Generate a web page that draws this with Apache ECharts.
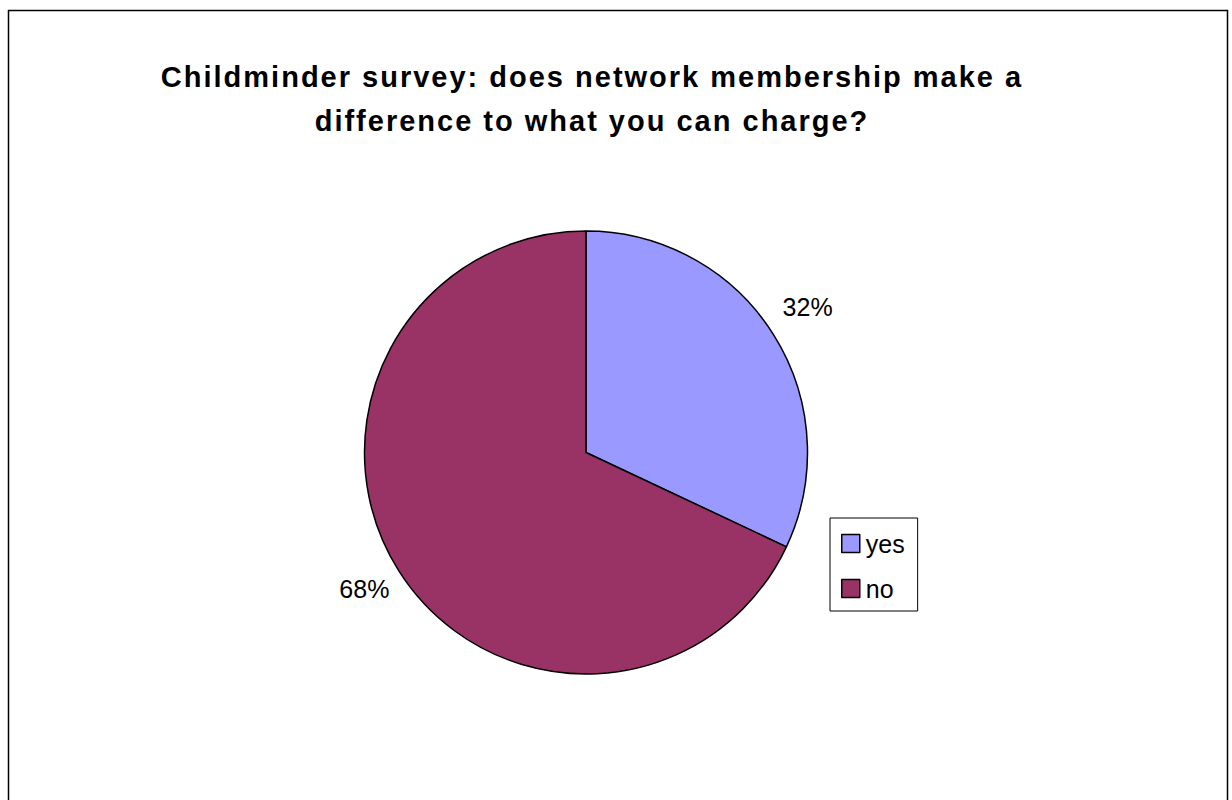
<!DOCTYPE html>
<html>
<head>
<meta charset="utf-8">
<script src="https://cdn.jsdelivr.net/npm/echarts@6/dist/echarts.min.js"></script>
<style>
  html, body { margin: 0; padding: 0; background: #fff; }
  #chart { width: 1232px; height: 800px; }
  /* the old Excel title is rendered with wide letter spacing */
  #chart svg text[style*="bold"] { letter-spacing: 2px; }
</style>
</head>
<body>
<div id="chart"></div>
<script>
const titleLines = ['Childminder survey: does network membership make a', 'difference to what you can charge?'];
const categories = ['yes', 'no'];
const shares = [32, 68];
const colors = ['#9999FF', '#993366'];

const FONT = 'Liberation Sans, Arial, sans-serif';

const chart = echarts.init(document.getElementById('chart'), null, { renderer: 'svg' });

chart.setOption({
  animation: false,
  textStyle: { fontFamily: FONT },
  graphic: [
    {
      type: 'rect',
      shape: { x: 8.5, y: 10.5, width: 1219, height: 800 },
      style: { fill: 'none', stroke: '#000', lineWidth: 1.5 },
      silent: true
    }
  ],
  title: {
    text: titleLines.join('\n'),
    left: 592,
    top: 55,
    textAlign: 'center',
    padding: 0,
    textStyle: {
      fontFamily: FONT,
      fontSize: 29,
      fontWeight: 'bold',
      color: '#000',
      lineHeight: 44
    }
  },
  legend: {
    orient: 'vertical',
    left: 830,
    top: 518,
    padding: [13, 13, 10, 11],
    itemGap: 20,
    itemWidth: 18,
    itemHeight: 18,
    icon: 'rect',
    borderColor: '#000',
    borderWidth: 1,
    backgroundColor: '#fff',
    itemStyle: { borderColor: '#000', borderWidth: 1.5 },
    textStyle: {
      fontFamily: FONT,
      fontSize: 25,
      color: '#000',
      padding: [0, 0, 0, 1]
    },
    data: categories
  },
  series: [
    {
      type: 'pie',
      center: [586, 452.5],
      radius: 221.5,
      startAngle: 90,
      clockwise: true,
      color: colors,
      itemStyle: { borderColor: '#000', borderWidth: 1.5 },
      emphasis: { disabled: true },
      label: {
        show: true,
        position: 'outside',
        formatter: '{c}%',
        fontFamily: FONT,
        fontSize: 25,
        color: '#000'
      },
      labelLine: {
        show: true,
        length: 41,
        length2: 0,
        lineStyle: { opacity: 0, width: 0 }
      },
      labelLayout: function (params) {
        const pts = params.labelLinePoints;
        if (!pts) return {};
        return { x: pts[1][0], y: pts[1][1] - 4.5, align: 'center', verticalAlign: 'middle' };
      },
      data: categories.map((name, i) => ({ name, value: shares[i] }))
    }
  ]
});

// fallback in case the svg text carries no inline font style
document.querySelectorAll('#chart svg text').forEach((el) => {
  if (titleLines.indexOf(el.textContent) >= 0) {
    el.setAttribute('letter-spacing', '2');
  }
});
</script>
</body>
</html>
